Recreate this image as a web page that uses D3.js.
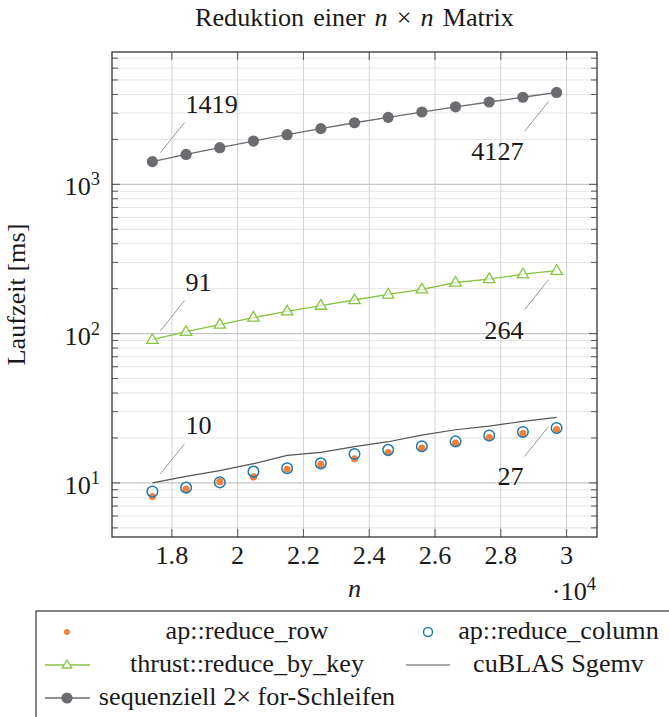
<!DOCTYPE html>
<html><head><meta charset="utf-8">
<script src="https://cdn.jsdelivr.net/npm/d3@7"></script>
<style>body{margin:0;background:#fff}</style>
</head><body>
<svg id="chart" width="669" height="717"></svg>
<script>
// ---------- data ----------
const nValues = [17408,18432,19456,20480,21504,22528,23552,24576,25600,26624,27648,28672,29696];
const rowValues = [8.1,9.1,10.2,10.97,12.33,13.31,14.5,15.95,17.1,18.5,20.1,21.36,22.8];
const columnValues = [8.75,9.3,10.09,11.9,12.55,13.52,15.63,16.65,17.6,18.97,20.8,21.95,23.3];
const thrustValues = [91,103,115,128,141,154,168,183,198,220,232,250,264];
const cublasValues = [10,11.07,12.08,13.46,15.29,16.01,17.48,18.88,20.9,22.7,24.04,25.8,27.45];
const seqValues = [1419,1585,1760,1950,2150,2360,2585,2810,3050,3305,3560,3830,4127];
const xTickValues = [18000,20000,22000,24000,26000,28000,30000];
const yMajorTicks = [10,100,1000];
const seriesNames = ["ap::reduce_row","ap::reduce_column","thrust::reduce_by_key","cuBLAS Sgemv","sequenziell 2\u00d7 for-Schleifen"];
const pinNotes = [
  {values: seqValues, idx: 0, label: "1419"},
  {values: seqValues, idx: 12, label: "4127"},
  {values: thrustValues, idx: 0, label: "91"},
  {values: thrustValues, idx: 12, label: "264"},
  {values: cublasValues, idx: 0, label: "10"},
  {values: cublasValues, idx: 12, label: "27"}
];

// ---------- layout ----------
const L = 112, R = 597, T = 52, B = 537;
const FS = 26.2;
const FF = "Liberation Serif";
const C = {row:"#f4813a", col:"#1f78b0", thrust:"#86c440", cublas:"#555555", seq:"#6b6b70"};

const svg = d3.select("#chart");
const txt = (sel) => sel.append("text").attr("font-family", FF).attr("fill", "#1a1a1a").attr("font-size", FS);

const xMin = d3.min(nValues), xMax = d3.max(nValues), xr = xMax - xMin;
const x = d3.scaleLinear().domain([xMin - 0.1*xr, xMax + 0.1*xr]).range([L, R]);
const allY = [].concat(rowValues, columnValues, thrustValues, cublasValues, seqValues);
const lyMin = Math.log10(d3.min(allY)), lyMax = Math.log10(d3.max(allY)), lr = lyMax - lyMin;
const y = d3.scaleLog().domain([Math.pow(10, lyMin - 0.1*lr), Math.pow(10, lyMax + 0.1*lr)]).range([B, T]);

// ---------- grid ----------
const g = svg.append("g");
const minorY = y.ticks().filter(v => !yMajorTicks.includes(v));
g.selectAll(".ym").data(minorY).enter().append("line")
  .attr("x1", L).attr("x2", R).attr("y1", d => y(d)).attr("y2", d => y(d))
  .attr("stroke", "#e4e4e4").attr("stroke-width", 1);
g.selectAll(".xg").data(xTickValues).enter().append("line")
  .attr("x1", d => x(d)).attr("x2", d => x(d)).attr("y1", T).attr("y2", B)
  .attr("stroke", "#d2d2d2").attr("stroke-width", 1);
g.selectAll(".yM").data(yMajorTicks).enter().append("line")
  .attr("x1", L).attr("x2", R).attr("y1", d => y(d)).attr("y2", d => y(d))
  .attr("stroke", "#c4c4c4").attr("stroke-width", 1.2);

// ---------- ticks (inside, both sides) ----------
const tk = svg.append("g").attr("stroke", "#555").attr("stroke-width", 1);
minorY.forEach(v => {
  tk.append("line").attr("x1", L).attr("x2", L + 6).attr("y1", y(v)).attr("y2", y(v));
  tk.append("line").attr("x1", R).attr("x2", R - 6).attr("y1", y(v)).attr("y2", y(v));
});
yMajorTicks.forEach(v => {
  tk.append("line").attr("x1", L).attr("x2", L + 8).attr("y1", y(v)).attr("y2", y(v));
  tk.append("line").attr("x1", R).attr("x2", R - 8).attr("y1", y(v)).attr("y2", y(v));
});
xTickValues.forEach(v => {
  tk.append("line").attr("x1", x(v)).attr("x2", x(v)).attr("y1", B).attr("y2", B - 8);
  tk.append("line").attr("x1", x(v)).attr("x2", x(v)).attr("y1", T).attr("y2", T + 8);
});

// frame
svg.append("rect").attr("x", L).attr("y", T).attr("width", R - L).attr("height", B - T)
  .attr("fill", "none").attr("stroke", "#333").attr("stroke-width", 1.3);

// x tick labels
xTickValues.forEach(v => {
  txt(svg).attr("x", x(v)).attr("y", B + 27).attr("text-anchor", "middle")
    .text(d3.format("")(+(v/1e4).toFixed(1)));
});

// y tick labels
yMajorTicks.forEach(v => {
  const t = txt(svg).attr("x", L - 12).attr("y", y(v) + 11).attr("text-anchor", "end");
  t.append("tspan").text("10");
  t.append("tspan").attr("font-size", 18.5).attr("dy", -10).text(Math.round(Math.log10(v)));
});

// axis labels
txt(svg).attr("x", (L + R)/2).attr("y", B + 60).attr("text-anchor", "middle")
  .attr("font-style", "italic").text("n");
const sc = txt(svg).attr("x", R - 1).attr("y", B + 63).attr("text-anchor", "end");
sc.append("tspan").text("\u00b710");
sc.append("tspan").attr("font-size", 18.5).attr("dy", -10).text("4");

txt(svg).attr("transform", `translate(25,${(T + B)/2}) rotate(-90)`)
  .attr("text-anchor", "middle").text("Laufzeit [ms]");

// title
const tt = txt(svg).attr("x", (L + R)/2).attr("y", 26).attr("text-anchor", "middle").attr("word-spacing", 2.5);
tt.append("tspan").text("Reduktion einer ");
tt.append("tspan").attr("font-style", "italic").text("n");
tt.append("tspan").text(" \u00d7 ");
tt.append("tspan").attr("font-style", "italic").text("n");
tt.append("tspan").text(" Matrix");

// ---------- series ----------
const plot = svg.append("g");
const line = vals => d3.line().x((d, i) => x(nValues[i])).y(d => y(d))(vals);
const triPath = s => `M0,${-s}L${s*0.95},${s*0.6}L${-s*0.95},${s*0.6}Z`;

plot.append("path").attr("d", line(seqValues)).attr("fill", "none").attr("stroke", C.seq).attr("stroke-width", 1.3);
plot.selectAll(".seq").data(seqValues).enter().append("circle")
  .attr("cx", (d, i) => x(nValues[i])).attr("cy", d => y(d)).attr("r", 5.6).attr("fill", C.seq);

plot.append("path").attr("d", line(thrustValues)).attr("fill", "none").attr("stroke", C.thrust).attr("stroke-width", 1.3);
plot.selectAll(".thr").data(thrustValues).enter().append("path")
  .attr("transform", (d, i) => `translate(${x(nValues[i])},${y(d)})`)
  .attr("d", triPath(6)).attr("fill", "#fff").attr("fill-opacity", 0.6).attr("stroke", C.thrust).attr("stroke-width", 1.3);

plot.append("path").attr("d", line(cublasValues)).attr("fill", "none").attr("stroke", C.cublas).attr("stroke-width", 1.2);

plot.selectAll(".row").data(rowValues).enter().append("circle")
  .attr("cx", (d, i) => x(nValues[i])).attr("cy", d => y(d)).attr("r", 3.6).attr("fill", C.row);
plot.selectAll(".col").data(columnValues).enter().append("circle")
  .attr("cx", (d, i) => x(nValues[i])).attr("cy", d => y(d)).attr("r", 5.3)
  .attr("fill", "none").attr("stroke", C.col).attr("stroke-width", 1.5);

// ---------- pins ----------
pinNotes.forEach(p => {
  const px = x(nValues[p.idx]), py = y(p.values[p.idx]);
  const left = p.idx === 0;
  const s = left ? 1 : -1;
  svg.append("line")
    .attr("x1", px + s*8).attr("y1", py - s*9)
    .attr("x2", px + s*32).attr("y2", py - s*39)
    .attr("stroke", "#999").attr("stroke-width", 1);
  txt(svg).attr("x", px + s*33).attr("y", left ? py - 49 : py + 68)
    .attr("text-anchor", left ? "start" : "end").text(p.label);
});

// ---------- legend ----------
const lg = svg.append("g");
lg.append("rect").attr("x", 36).attr("y", 611).attr("width", 700).attr("height", 200)
  .attr("fill", "#fff").attr("stroke", "#333").attr("stroke-width", 1.2);
const rowsY = [632, 665, 698];
const mx1 = 67, mx2 = 428;
lg.append("circle").attr("cx", mx1).attr("cy", rowsY[0]).attr("r", 3).attr("fill", C.row);
lg.append("circle").attr("cx", mx2).attr("cy", rowsY[0]).attr("r", 4.5).attr("fill", "none").attr("stroke", C.col).attr("stroke-width", 1.4);
lg.append("line").attr("x1", mx1 - 22).attr("x2", mx1 + 23).attr("y1", rowsY[1]).attr("y2", rowsY[1]).attr("stroke", C.thrust).attr("stroke-width", 1.3);
lg.append("path").attr("transform", `translate(${mx1},${rowsY[1]})`).attr("d", triPath(5)).attr("fill", "#fff").attr("stroke", C.thrust).attr("stroke-width", 1.3);
lg.append("line").attr("x1", mx2 - 22).attr("x2", mx2 + 22).attr("y1", rowsY[1]).attr("y2", rowsY[1]).attr("stroke", C.cublas).attr("stroke-width", 1.2);
lg.append("line").attr("x1", mx1 - 22).attr("x2", mx1 + 23).attr("y1", rowsY[2]).attr("y2", rowsY[2]).attr("stroke", C.seq).attr("stroke-width", 1.3);
lg.append("circle").attr("cx", mx1).attr("cy", rowsY[2]).attr("r", 5.6).attr("fill", C.seq);

const colCenters = [247, 558.5];
seriesNames.forEach((s, i) => {
  txt(lg).attr("x", colCenters[i % 2]).attr("y", rowsY[Math.floor(i / 2)] + 6.5)
    .attr("text-anchor", "middle").text(s);
});
</script>
</body></html>
